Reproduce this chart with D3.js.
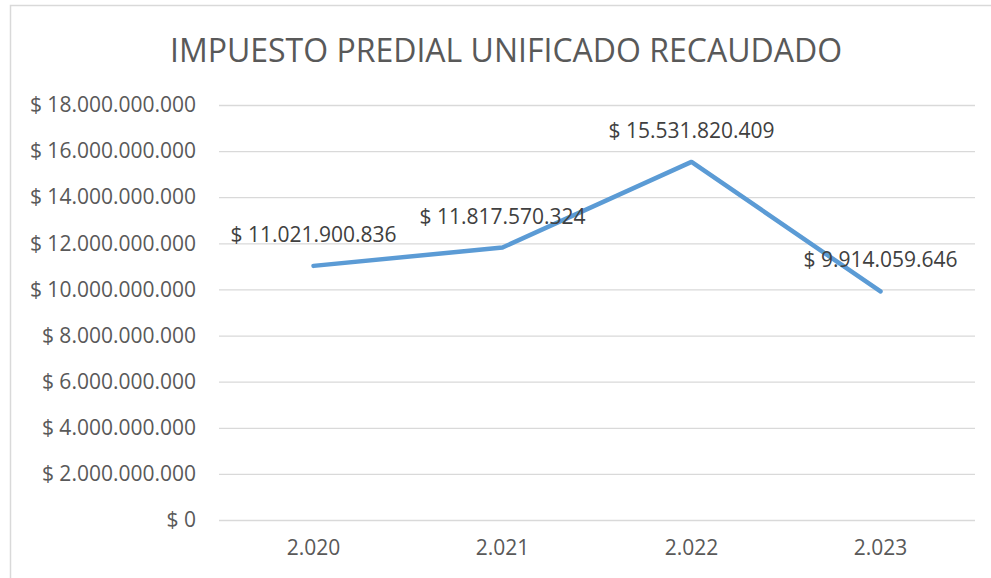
<!DOCTYPE html>
<html>
<head>
<meta charset="utf-8">
<script src="https://cdn.jsdelivr.net/npm/d3@7"></script>
<style>
  body { margin: 0; background: #fff; }
  text { font-family: "Open Sans", sans-serif; }
</style>
</head>
<body>
<script>
// data
var years = ["2.020", "2.021", "2.022", "2.023"]
var recaudo = [11021900836, 11817570324, 15531820409, 9914059646]
var yTicks = [0, 2e9, 4e9, 6e9, 8e9, 10e9, 12e9, 14e9, 16e9, 18e9]
var title = "IMPUESTO PREDIAL UNIFICADO RECAUDADO"

var width = 991
var height = 578

var svg = d3.select("body")
    .append("svg")
    .attr("width", width)
    .attr("height", height)

// chart border (only top and left visible in the crop)
svg.append("rect")
    .attr("x", 10.5).attr("y", 5.5)
    .attr("width", 1000).attr("height", 600)
    .attr("fill", "none")
    .attr("stroke", "#d9d9d9")
    .attr("stroke-width", 1.5)

// plot area (window.top is reserved, so plotTop etc)
var plotLeft = 219, plotRight = 975, plotTop = 105, plotBottom = 520

var x = d3.scaleBand().domain(years).range([plotLeft, plotRight])
var y = d3.scaleLinear().domain([0, 18e9]).range([plotBottom, plotTop])

// number format with dots as thousands separator
var loc = d3.formatLocale({decimal: ",", thousands: ".", grouping: [3], currency: ["$ ", ""]})
var fmt = loc.format("$,.0f")

svg.append("text")
    .attr("x", (167 + 845) / 2)
    .attr("y", 62)
    .attr("text-anchor", "middle")
    .attr("font-size", 32)
    .attr("fill", "#595959")
    .text(title)

// gridlines + y labels
var yAxis = d3.axisLeft(y)
    .tickValues(yTicks)
    .tickSize(-(plotRight - plotLeft))
    .tickPadding(23)
    .tickFormat(fmt)

var gy = svg.append("g")
    .attr("transform", "translate(" + plotLeft + ",0)")
    .call(yAxis)
gy.select(".domain").remove()
gy.selectAll(".tick line").attr("stroke", "#d9d9d9").attr("stroke-width", 1.3)
gy.selectAll(".tick text")
    .attr("font-size", 21)
    .attr("fill", "#595959")
    .attr("font-family", "Open Sans, sans-serif")

// x labels
var xAxis = d3.axisBottom(x).tickSize(0).tickPadding(20)
var gx = svg.append("g")
    .attr("transform", "translate(0," + plotBottom + ")")
    .call(xAxis)
gx.select(".domain").remove()
gx.selectAll(".tick text")
    .attr("font-size", 21)
    .attr("fill", "#595959")
    .attr("font-family", "Open Sans, sans-serif")

var pts = years.map(function(d, i) { return [x(d) + x.bandwidth() / 2, y(recaudo[i])] })

var line = d3.line()
svg.append("path")
    .attr("d", line(pts))
    .attr("fill", "none")
    .attr("stroke", "#5b9bd5")
    .attr("stroke-width", 4.5)
    .attr("stroke-linejoin", "round")
    .attr("stroke-linecap", "round")

svg.selectAll(".lbl")
    .data(recaudo)
    .enter()
    .append("text")
    .attr("class", "lbl")
    .attr("x", function(d, i) { return pts[i][0] })
    .attr("y", function(d, i) { return pts[i][1] - 24 })
    .attr("text-anchor", "middle")
    .attr("font-size", 21)
    .attr("fill", "#404040")
    .text(function(d) { return fmt(d) })
</script>
</body>
</html>
